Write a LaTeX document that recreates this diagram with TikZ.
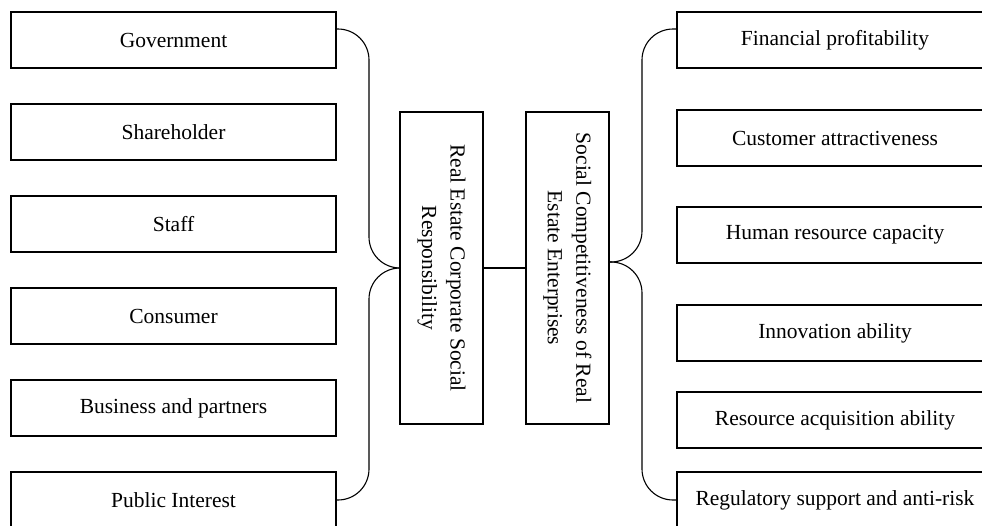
\documentclass[tikz,border=0pt]{standalone}
\usepackage{fontspec}
\setmainfont{Liberation Serif}
\begin{document}
\begin{tikzpicture}[x=1pt,y=-1pt,line width=1.1pt,
    font=\fontsize{21.5}{28.5}\selectfont,
    sidebox/.style={draw,rectangle,minimum height=56pt,inner sep=0pt},
    leftbox/.style={sidebox,minimum width=325pt},
    rightbox/.style={sidebox,minimum width=316pt},
    midbox/.style={draw,rectangle,rotate=-90,align=center,minimum width=312pt,minimum height=83pt,inner sep=2pt},
    brace/.style={rounded corners=31pt}]
    \useasboundingbox (0,0) rectangle (982,525);

    % Stakeholders (left column)
    \node[leftbox] (gov) at (173.5,40) {Government};
    \node[leftbox] (share) at (173.5,132) {Shareholder};
    \node[leftbox] (staff) at (173.5,224) {Staff};
    \node[leftbox] (cons) at (173.5,316) {Consumer};
    \node[leftbox] (busi) at (173.5,408) {Business and partners};
    \node[leftbox] (pub) at (173.5,500) {Public Interest};

    % Competitiveness factors (right column)
    \node[rightbox] (fin) at (835,40) {Financial profitability};
    \node[rightbox] (cust) at (835,138) {Customer attractiveness};
    \node[rightbox] (hum) at (835,235) {Human resource capacity};
    \node[rightbox] (inno) at (835,333) {Innovation ability};
    \node[rightbox] (res) at (835,420) {Resource acquisition ability};
    \node[rightbox] (reg) at (835,500) {Regulatory support and anti-risk};

    % Central boxes (rotated: south = left side, north = right side)
    \node[midbox] (csr) at (441.5,268) {Real Estate Corporate Social\\Responsibility};
    \node[midbox] (comp) at (567.5,268) {Social Competitiveness of Real\\Estate Enterprises};
    \draw (csr.north) -- (comp.south);

    % Braces
    \coordinate (lbr) at (369,268);
    \coordinate (rbr) at (642,262);
    \draw[brace] ([yshift=11pt]gov.east) -| (lbr) -- (csr.south);
    \draw[brace] (csr.south) -- (lbr) |- (pub.east);
    \draw[brace] ([yshift=11pt]fin.west) -| (rbr) -- ([yshift=6pt]comp.north);
    \draw[brace] ([yshift=6pt]comp.north) -- (rbr) |- (reg.west);
\end{tikzpicture}
\end{document}
